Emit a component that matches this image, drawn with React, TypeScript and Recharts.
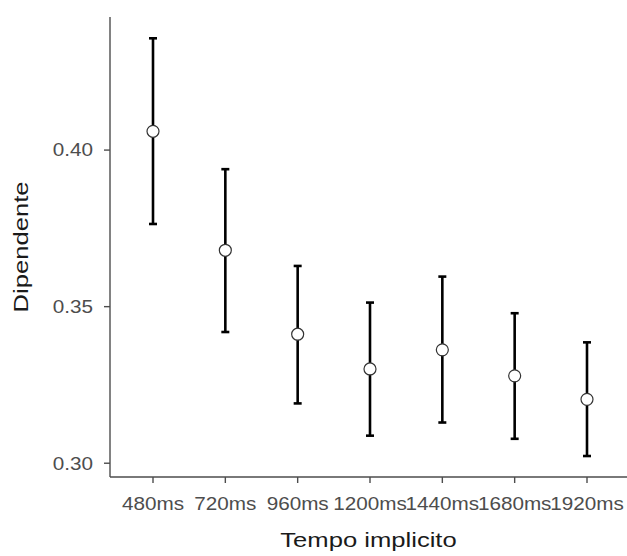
import React from "react";
import {
  CartesianGrid,
  ComposedChart,
  ErrorBar,
  Scatter,
  XAxis,
  YAxis
} from "recharts";

document.body.style.margin = "0";

const labels = ["480ms", "720ms", "960ms", "1200ms", "1440ms", "1680ms", "1920ms"];
const means = [0.406, 0.368, 0.3412, 0.3301, 0.3362, 0.3279, 0.3204];
const lower = [0.3764, 0.3419, 0.3191, 0.3088, 0.313, 0.3078, 0.3023];
const upper = [0.4357, 0.3939, 0.363, 0.3513, 0.3596, 0.3479, 0.3386];
const yTicks = [0.3, 0.35, 0.4];

const data = labels.map((label, i) => ({
  label,
  mean: means[i],
  err: [means[i] - lower[i], upper[i] - means[i]]
}));

const FONT = "'Liberation Sans', Arial, Helvetica, sans-serif";
const STRETCH = 1.15;
const TITLE_STRETCH = 1.22;

const XTick = (props: any) => {
  const { x, y, payload } = props;
  return (
    <g transform={`translate(${x},${y}) scale(${STRETCH},1)`}>
      <text x={0} y={0} dy="0.71em" textAnchor="middle" fill="#4d4d4d" fontSize={18} fontFamily={FONT}>
        {payload.value}
      </text>
    </g>
  );
};

const YTick = (props: any) => {
  const { x, y, payload } = props;
  return (
    <g transform={`translate(${x},${y}) scale(${STRETCH},1)`}>
      <text x={0} y={0} dy="0.355em" textAnchor="end" fill="#4d4d4d" fontSize={18} fontFamily={FONT}>
        {payload.value.toFixed(2)}
      </text>
    </g>
  );
};

const Dot = (props: any) => {
  const { cx, cy } = props;
  return <circle cx={cx} cy={cy} r={6} fill="#ffffff" stroke="#333333" strokeWidth={1.2} />;
};

const XTitle = (props: any) => {
  const { viewBox } = props;
  const cx = viewBox.x + viewBox.width / 2;
  return (
    <g transform={`translate(${cx},${viewBox.y + 70}) scale(${TITLE_STRETCH},1)`}>
      <text textAnchor="middle" fill="#1a1a1a" fontSize={21} fontFamily={FONT}>
        Tempo implicito
      </text>
    </g>
  );
};

const YTitle = (props: any) => {
  const { viewBox } = props;
  const cy = viewBox.y + viewBox.height / 2;
  return (
    <g transform={`translate(28,${cy}) rotate(-90) scale(${TITLE_STRETCH},1)`}>
      <text textAnchor="middle" fill="#1a1a1a" fontSize={21} fontFamily={FONT}>
        Dipendente
      </text>
    </g>
  );
};

export default function App() {
  return (
    <div style={{ width: 627, height: 556, background: "#ffffff" }}>
      <ComposedChart
        width={627}
        height={556}
        data={data}
        margin={{ top: 17, right: 0, bottom: 0, left: 0 }}
      >
        <CartesianGrid stroke="none" />
        <XAxis
          dataKey="label"
          type="category"
          scale="point"
          padding={{ left: 43, right: 40 }}
          height={79}
          stroke="#4d4d4d"
          strokeWidth={1.4}
          tickSize={6}
          tickMargin={14}
          tick={<XTick />}
          interval={0}
          label={<XTitle />}
        />
        <YAxis
          type="number"
          domain={[0.2956, 0.4425]}
          ticks={yTicks}
          allowDataOverflow
          width={110}
          stroke="#4d4d4d"
          strokeWidth={1.4}
          tickSize={6}
          tickMargin={11}
          tick={<YTick />}
          label={<YTitle />}
        />
        <Scatter dataKey="mean" shape={<Dot />} isAnimationActive={false}>
          <ErrorBar dataKey="err" direction="y" width={4} stroke="#000000" strokeWidth={2.6} />
        </Scatter>
      </ComposedChart>
    </div>
  );
}
